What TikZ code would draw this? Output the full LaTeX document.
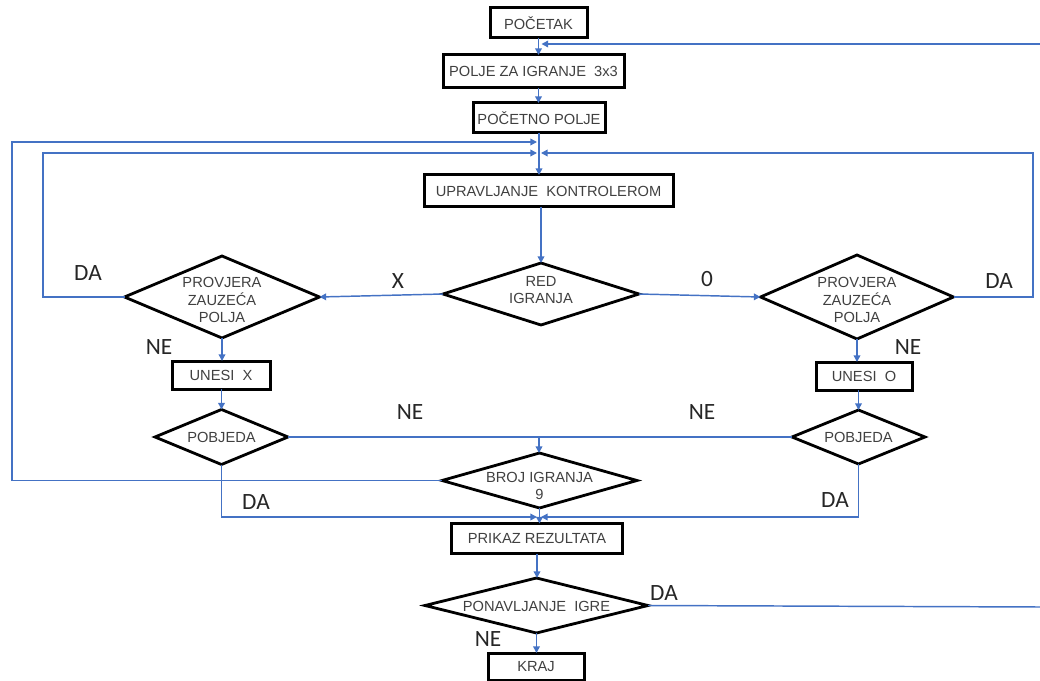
\documentclass[tikz,border=0pt]{standalone}
\usepackage{fontspec}
\setmainfont{Liberation Sans}
\newfontfamily\lblfont{Carlito}
\usetikzlibrary{shapes.geometric,arrows.meta,calc}
\definecolor{fblue}{HTML}{4472C4}
\definecolor{ftext}{HTML}{404040}
\tikzset{
  boxnode/.style={draw=black, line width=2.25pt, rectangle, inner sep=0pt, outer sep=0pt,
    text=ftext, font=\fontsize{11}{13}\selectfont},
  dianode/.style={draw=black, line width=2.1pt, diamond, inner sep=0pt, outer sep=0pt},
  dtxt/.style={text=ftext, align=center, inner sep=0pt, font=\fontsize{11}{13}\selectfont},
  lbl/.style={text=black!85, inner sep=0pt, font=\lblfont\fontsize{17.5}{20}\selectfont},
  line/.style={draw=fblue, line width=1.1pt},
  conn/.style={line, -{Triangle[length=5pt,width=5pt]}}
}
\begin{document}
\begin{tikzpicture}[x=0.75pt,y=-0.75pt]
\useasboundingbox (0,0) rectangle (1040,681);
% boxes
\node[boxnode, minimum width=72.75pt, minimum height=22.5pt] (pocetak) at (538.5,23) {POČETAK};
\node[boxnode, minimum width=135.75pt, minimum height=24.75pt] (polje) at (533.5,71.5) {POLJE ZA IGRANJE\ \ 3x3};
\node[boxnode, minimum width=99pt, minimum height=22.5pt] (pocetno) at (539,118) {POČETNO POLJE};
\node[boxnode, minimum width=186.75pt, minimum height=24pt] (upr) at (548.5,191) {UPRAVLJANJE\ \ KONTROLEROM};
\node[boxnode, minimum width=73.5pt, minimum height=21pt] (unx) at (221,375) {UNESI\ \ X};
\node[boxnode, minimum width=72pt, minimum height=21pt] (uno) at (864,376) {UNESI\ \ O};
\node[boxnode, minimum width=128.25pt, minimum height=22.5pt] (prikaz) at (537,538.5) {PRIKAZ REZULTATA};
\node[boxnode, minimum width=72pt, minimum height=20.25pt] (kraj) at (536,666.5) {KRAJ};
% diamonds
\node[dianode, minimum width=147pt, minimum height=46.5pt] (red) at (541,294) {};
\node[dtxt] (redt) at (541,290) {RED\\IGRANJA};
\node[dianode, minimum width=146.25pt, minimum height=61.5pt] (p1) at (222,297) {};
\node[dtxt] (p1t) at (222,300) {PROVJERA\\ZAUZEĆA\\POLJA};
\node[dianode, minimum width=144.75pt, minimum height=63pt] (p2) at (857,297) {};
\node[dtxt] (p2t) at (857,300) {PROVJERA\\ZAUZEĆA\\POLJA};
\node[dianode, minimum width=99.75pt, minimum height=41.25pt] (pob1) at (221.5,437) {};
\node[dtxt] (pob1t) at (221.5,437) {POBJEDA};
\node[dianode, minimum width=99.75pt, minimum height=40.5pt] (pob2) at (858.5,437) {};
\node[dtxt] (pob2t) at (858.5,437) {POBJEDA};
\node[dianode, minimum width=146.25pt, minimum height=41.25pt] (broj) at (539.5,480.5) {};
\node[dtxt] (brojt) at (539.5,486) {BROJ IGRANJA\\9};
\node[dianode, minimum width=167.25pt, minimum height=41.25pt] (pon) at (536.5,605.5) {};
\node[dtxt] (pont) at (536.5,606) {PONAVLJANJE\ \ IGRE};
% labels
\node[lbl] (lx) at (398,281) {X};
\node[lbl] (l0) at (707,279) {0};
\node[lbl] (lda1) at (88,273) {DA};
\node[lbl] (lda2) at (999,281) {DA};
\node[lbl] (lne1) at (159,347) {NE};
\node[lbl] (lne2) at (908,347) {NE};
\node[lbl] (lne3) at (410,412) {NE};
\node[lbl] (lne4) at (702,412) {NE};
\node[lbl] (lda3) at (256,502) {DA};
\node[lbl] (lda4) at (835,500) {DA};
\node[lbl] (lda5) at (664,593) {DA};
\node[lbl] (lne5) at (488,639) {NE};
% coordinates
\coordinate (rtop) at (1040,44);
\coordinate (rbot) at (1040,607);
\coordinate (olc) at (12,142);
\coordinate (ilc) at (43,153);
\coordinate (irc) at (1033,153);
\coordinate (nej) at (539,437);
\coordinate (daj) at (539,517);
% connectors
\draw[conn] (pocetak) -- (pocetak |- polje.north);
\draw[conn] (rtop) -- ($(pocetak.south |- rtop)+(3,0)$);
\draw[conn] (pocetak |- polje.south) -- (pocetak |- pocetno.north);
\draw[conn] (pocetno) -- (pocetno |- upr.north);
\draw[conn] (broj.west) -| (olc) -- ($(pocetno |- olc)+(-2,0)$);
\draw[conn] (p1.west) -| (ilc) -- ($(pocetno |- ilc)+(-2,0)$);
\draw[conn] (p2.east) -| (irc) -- ($(pocetno |- irc)+(2,0)$);
\draw[conn] (red.north |- upr.south) -- (red.north);
\draw[conn] (red.west) -- (p1.east);
\draw[conn] (red.east) -- (p2.west);
\draw[conn] (p1.south) -- (p1.south |- unx.north);
\draw[conn] (p2.south) -- (p2.south |- uno.north);
\draw[conn] (pob1.north |- unx.south) -- (pob1.north);
\draw[conn] (pob2.north |- uno.south) -- (pob2.north);
\draw[line] (pob1.east) -- (nej) -- (pob2.west);
\draw[conn] (nej) -- (nej |- broj.north);
\draw[conn] (pob1.south) |- ($(daj)+(-2,0)$);
\draw[conn] (pob2.south) |- ($(daj)+(2,0)$);
\draw[conn] (broj.south) -- (broj.south |- prikaz.north);
\draw[conn] (prikaz) -- (prikaz |- pon.north);
\draw[conn] (pon) -- (pon |- kraj.north);
\draw[line] (pon.east) -- (rbot);
\end{tikzpicture}
\end{document}
